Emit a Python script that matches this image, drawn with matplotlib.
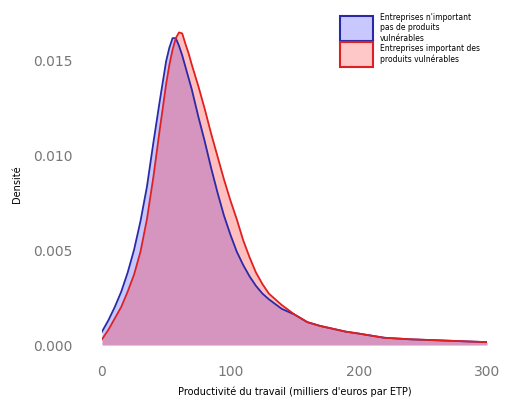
import matplotlib
matplotlib.use('Agg')
import matplotlib.pyplot as plt
from matplotlib.patches import Patch

# Productivité du travail (milliers d'euros par ETP)
x = [0, 5, 10, 15, 20, 25, 30, 35, 40, 45, 50, 52.5, 55, 57.5, 60, 62.5, 65, 67.5, 70, 75,
     80, 85, 90, 95, 100, 105, 110, 115, 120, 125, 130, 140, 150, 160, 170, 180, 190, 200,
     220, 240, 260, 280, 300]

# densité - entreprises n'important pas de produits vulnérables
dens_non_imp = [0.0007, 0.0013, 0.0020, 0.0028, 0.0038, 0.0050, 0.0065, 0.0083, 0.0106, 0.0128,
                0.0149, 0.0156, 0.0161, 0.0161, 0.0157, 0.0152, 0.0146, 0.0140, 0.0134, 0.0120,
                0.0107, 0.0093, 0.0080, 0.0068, 0.0058, 0.0049, 0.0042, 0.0036, 0.0031, 0.0027,
                0.0024, 0.0019, 0.0016, 0.0012, 0.0010, 0.00085, 0.0007, 0.0006,
                0.00038, 0.0003, 0.00025, 0.0002, 0.00015]

# densité - entreprises important des produits vulnérables
dens_imp = [0.0003, 0.0008, 0.0014, 0.0020, 0.0028, 0.0037, 0.0049, 0.0066, 0.0088, 0.0113,
            0.0137, 0.0147, 0.0155, 0.0161, 0.0164, 0.01635, 0.0158, 0.0153, 0.0147, 0.0136,
            0.0124, 0.0111, 0.0099, 0.0087, 0.0076, 0.0066, 0.0055, 0.0046, 0.0038, 0.0032,
            0.0027, 0.0021, 0.0016, 0.0012, 0.0010, 0.00085, 0.0007, 0.0006,
            0.00038, 0.0003, 0.00025, 0.0002, 0.00015]

labels = ["Entreprises n'important\npas de produits\nvulnérables",
          "Entreprises important des\nproduits vulnérables"]

fig = plt.figure(figsize=(5.29, 4.10), dpi=100)
ax = fig.add_axes([102 / 529, 64 / 410, 385 / 529, 324 / 410])

ax.fill_between(x, dens_non_imp, color='#0000ff', alpha=0.22, linewidth=0)
ax.plot(x, dens_non_imp, color='#2a2aa8', linewidth=1.3)
ax.fill_between(x, dens_imp, color='#ff0000', alpha=0.25, linewidth=0)
ax.plot(x, dens_imp, color='#e02020', linewidth=1.3)

ax.set_xlim(0, 300)
ax.set_ylim(0, 0.017)
ax.set_xticks([0, 100, 200, 300])
ax.set_yticks([0.000, 0.005, 0.010, 0.015])
ax.set_yticklabels(['0.000', '0.005', '0.010', '0.015'])
ax.tick_params(length=0, labelsize=10, colors='#777777')
ax.tick_params(axis='y', pad=21)
ax.tick_params(axis='x', pad=14)
for s in ax.spines.values():
    s.set_visible(False)

ax.set_xlabel("Productivité du travail (milliers d'euros par ETP)", fontsize=7, labelpad=5)
ax.set_ylabel("Densité", fontsize=7, labelpad=8)

handles = [Patch(facecolor='#c8c8ff', edgecolor='#2a2aa8', linewidth=1.5),
           Patch(facecolor='#ffc8c8', edgecolor='#e02020', linewidth=1.5)]
fig.legend(handles, labels, loc='upper left', bbox_to_anchor=(340 / 529, 1 - 13 / 410),
           fontsize=5.5, frameon=False, handlelength=4.3, handleheight=4.6,
           handletextpad=0.9, labelspacing=0.0, borderaxespad=0, borderpad=0)

fig.savefig('out.png', dpi=100)
